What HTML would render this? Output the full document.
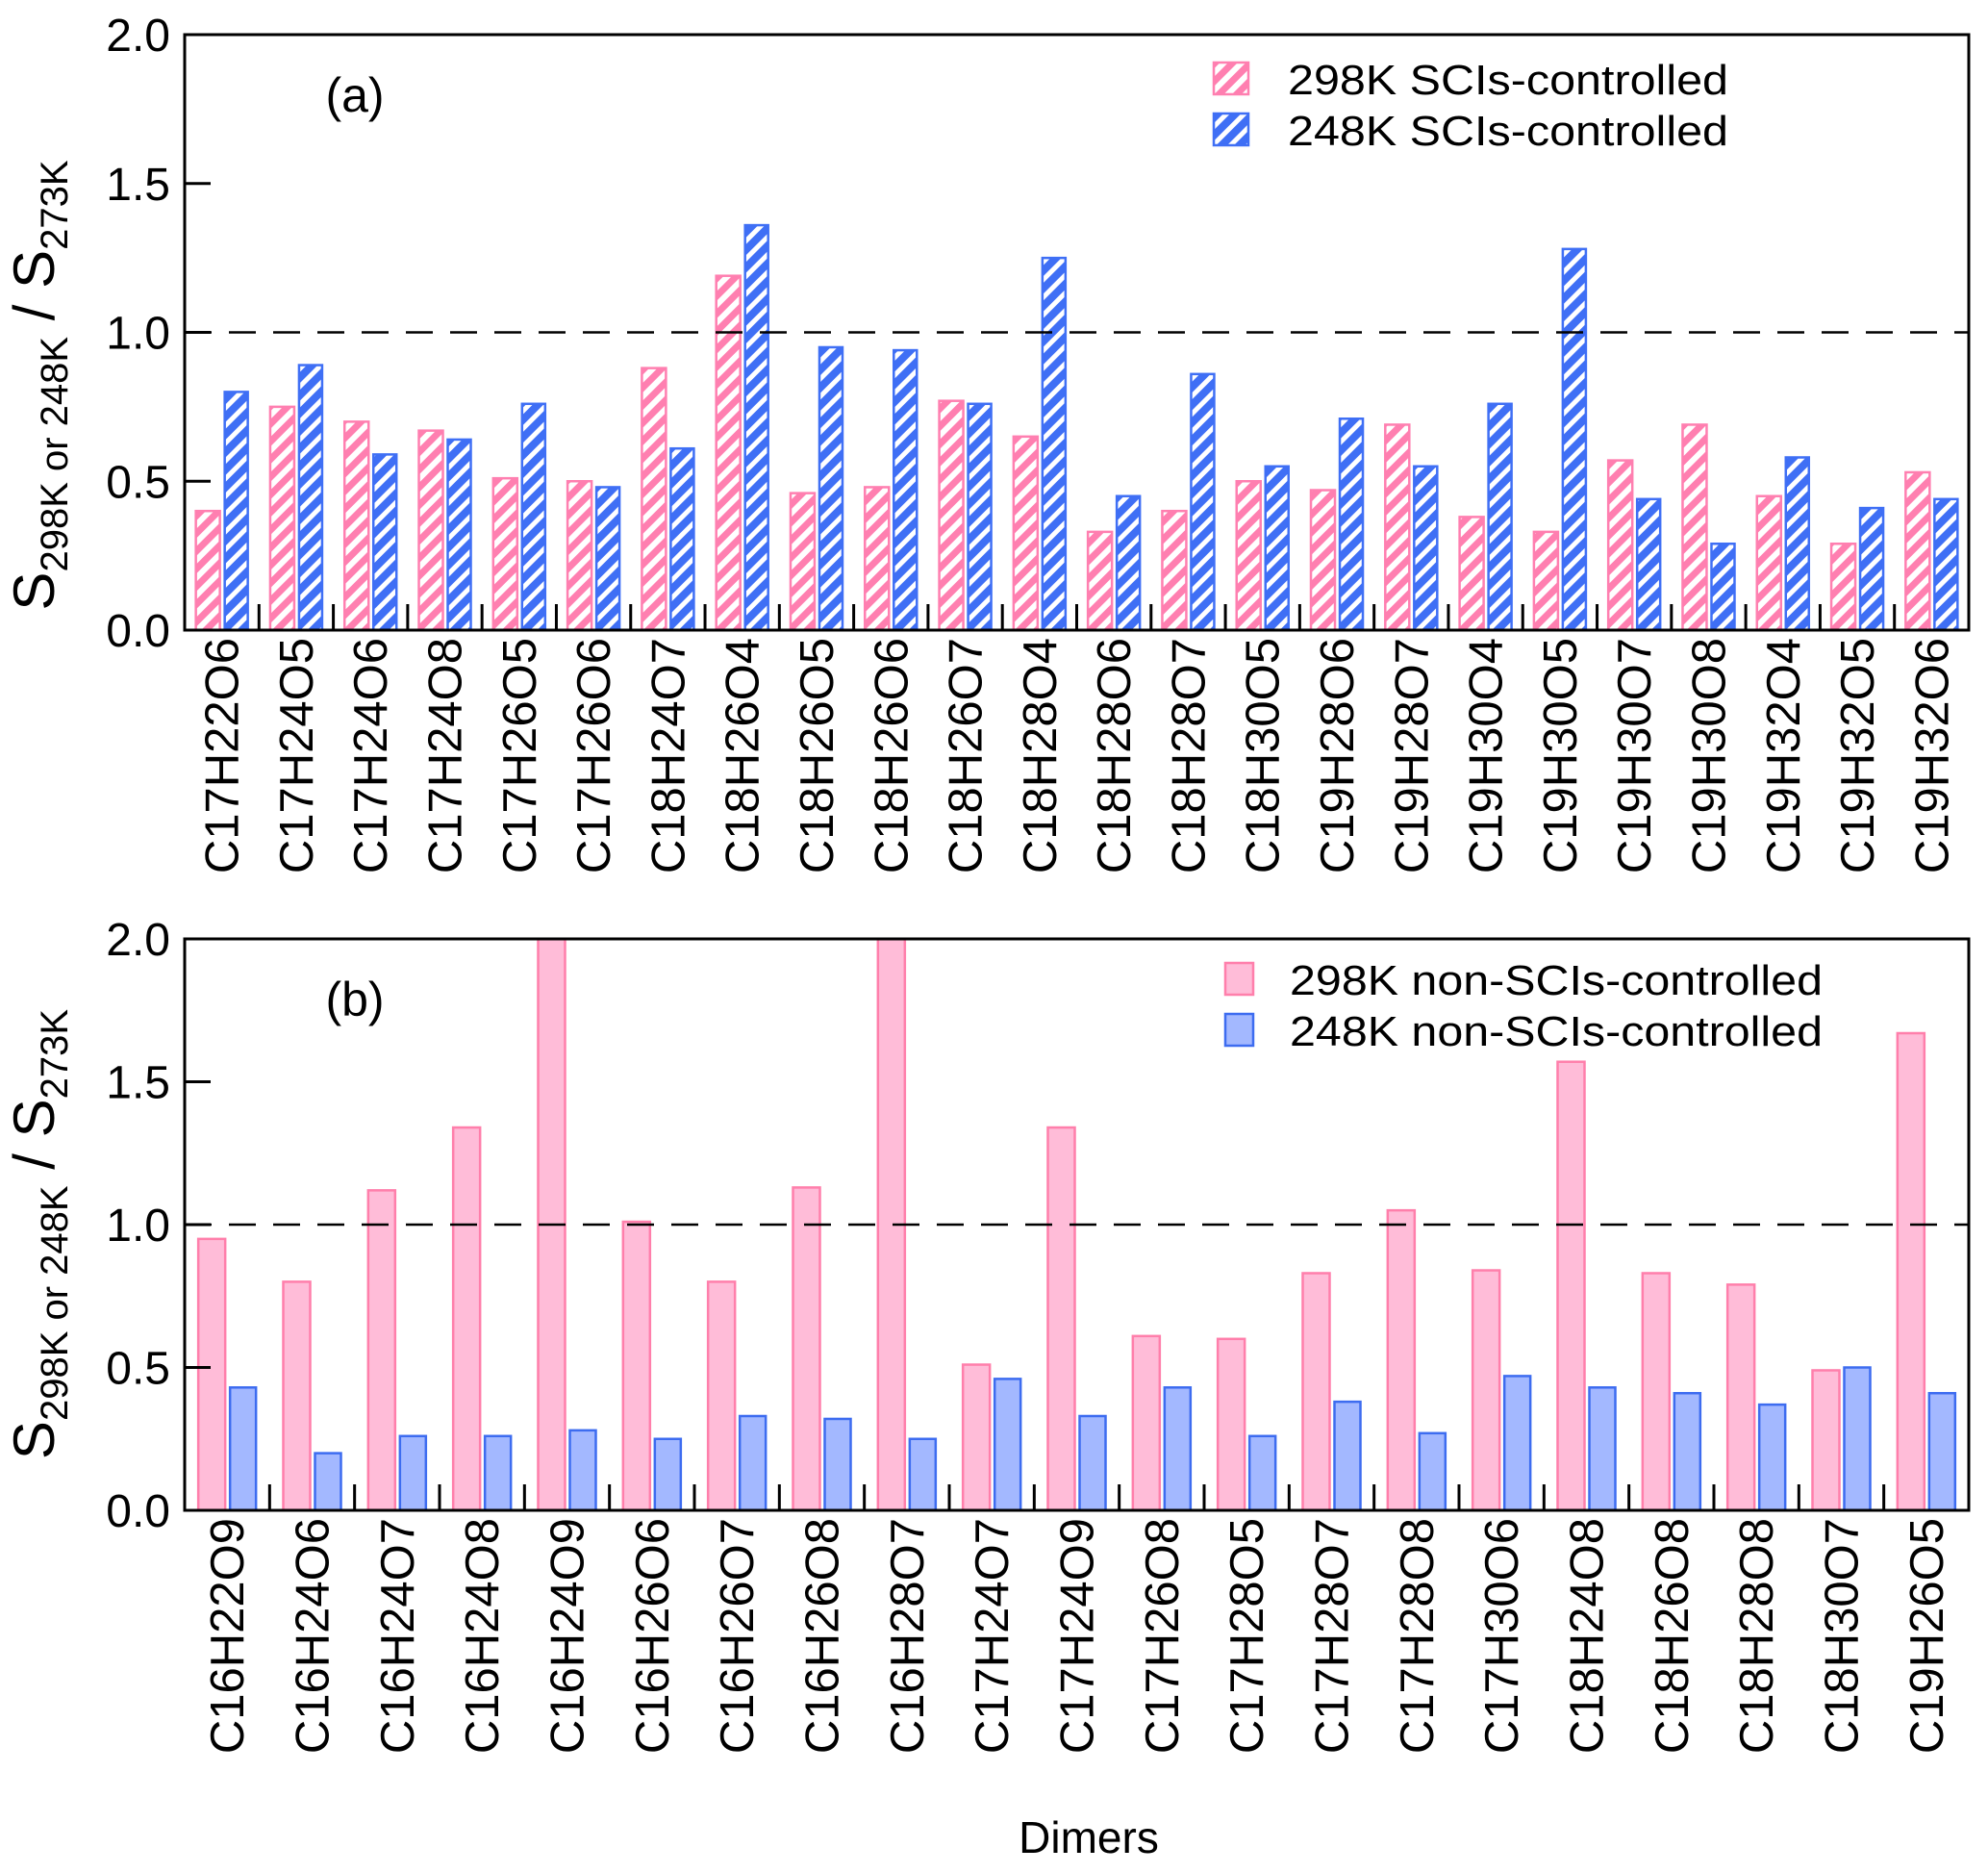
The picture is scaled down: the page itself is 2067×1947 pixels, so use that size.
<!DOCTYPE html>
<html><head><meta charset="utf-8">
<style>
html,body{margin:0;padding:0;background:#fff;}
svg{display:block;font-family:"Liberation Sans",Arial,sans-serif;}
</style></head>
<body>
<svg id="chart" width="2067" height="1947" viewBox="0 0 2067 1947" xmlns="http://www.w3.org/2000/svg">
<defs>
<pattern id="hatchPink" patternUnits="userSpaceOnUse" width="13" height="13" patternTransform="rotate(45)">
<rect width="13" height="13" fill="#fff"/><rect width="7" height="13" fill="#ff7fb0"/>
</pattern>
<pattern id="hatchBlue" patternUnits="userSpaceOnUse" width="13" height="13" patternTransform="rotate(45)">
<rect width="13" height="13" fill="#fff"/><rect width="8" height="13" fill="#3f6ff5"/>
</pattern>
</defs>
<g id="panelA"></g>
<g id="panelB"></g>
<text x="1132" y="1926" font-size="46" text-anchor="middle">Dimers</text>
</svg>
<script>
const catsA = ["C17H22O6","C17H24O5","C17H24O6","C17H24O8","C17H26O5","C17H26O6","C18H24O7","C18H26O4","C18H26O5","C18H26O6","C18H26O7","C18H28O4","C18H28O6","C18H28O7","C18H30O5","C19H28O6","C19H28O7","C19H30O4","C19H30O5","C19H30O7","C19H30O8","C19H32O4","C19H32O5","C19H32O6"];
const pinkA = [0.40,0.75,0.70,0.67,0.51,0.50,0.88,1.19,0.46,0.48,0.77,0.65,0.33,0.40,0.50,0.47,0.69,0.38,0.33,0.57,0.69,0.45,0.29,0.53];
const blueA = [0.80,0.89,0.59,0.64,0.76,0.48,0.61,1.36,0.95,0.94,0.76,1.25,0.45,0.86,0.55,0.71,0.55,0.76,1.28,0.44,0.29,0.58,0.41,0.44];
const catsB = ["C16H22O9","C16H24O6","C16H24O7","C16H24O8","C16H24O9","C16H26O6","C16H26O7","C16H26O8","C16H28O7","C17H24O7","C17H24O9","C17H26O8","C17H28O5","C17H28O7","C17H28O8","C17H30O6","C18H24O8","C18H26O8","C18H28O8","C18H30O7","C19H26O5"];
const pinkB = [0.95,0.80,1.12,1.34,2.0,1.01,0.80,1.13,2.0,0.51,1.34,0.61,0.60,0.83,1.05,0.84,1.57,0.83,0.79,0.49,1.67];
const blueB = [0.43,0.20,0.26,0.26,0.28,0.25,0.33,0.32,0.25,0.46,0.33,0.43,0.26,0.38,0.27,0.47,0.43,0.41,0.37,0.50,0.41];
const yTicks = ["0.0","0.5","1.0","1.5","2.0"];
const yTickVals = [0,0.5,1.0,1.5,2.0];

const NS = "http://www.w3.org/2000/svg";
function mk(parent, tag, attrs, text){
  const e = document.createElementNS(NS, tag);
  for (const k in attrs) e.setAttribute(k, attrs[k]);
  if (text !== undefined) e.textContent = text;
  parent.appendChild(e);
  return e;
}

function drawPanel(g, cfg){
  const L=192, R=2047, T=cfg.top, B=cfg.bottom;
  const y = v => B - (v/2.0)*(B-T);
  const n = cfg.cats.length, gw = (R-L)/n;
  const xc = i => L + gw*(i+0.5);
  for (let i=0;i<n;i++){
    const p = mk(g,'rect',{x:xc(i)-cfg.off1, y:y(cfg.s1[i]), width:cfg.w1, height:B-y(cfg.s1[i]), fill:cfg.f1, stroke:cfg.st1, 'stroke-width':2.5});
    
    
    const q = mk(g,'rect',{x:xc(i)+3, y:y(cfg.s2[i]), width:cfg.w2, height:B-y(cfg.s2[i]), fill:cfg.f2, stroke:cfg.st2, 'stroke-width':2.5});
    
    
    const t = mk(g,'text',{x:0,y:0,'font-size':49,'text-anchor':'end',transform:`translate(${xc(i)+17},${B+8}) rotate(-90)`}, cfg.cats[i]);
    
    
  }
  const d = mk(g,'line',{x1:L,x2:R,y1:y(1),y2:y(1),stroke:'#000','stroke-width':2.5,'stroke-dasharray':'28 18'});
  
  
  for (let i=1;i<n;i++){
    const tk = mk(g,'line',{x1:L+gw*i,x2:L+gw*i,y1:B,y2:B-27,stroke:'#000','stroke-width':3});
    
    
  }
  for (let k=0;k<yTicks.length;k++){
    const yy = y(yTickVals[k]);
    const tk = mk(g,'line',{x1:L,x2:L+27,y1:yy,y2:yy,stroke:'#000','stroke-width':3});
    
    
    const lb = mk(g,'text',{x:177,y:yy+17,'font-size':48,'text-anchor':'end'}, yTicks[k]);
    
    
  }
  const fr = mk(g,'rect',{x:L,y:T,width:R-L,height:B-T,fill:'none',stroke:'#000','stroke-width':3});
  
  
  const pl = mk(g,'text',{x:369,y:T+80,'font-size':50,'text-anchor':'middle'}, cfg.label);
  
  
  const cy = (T+B)/2 + cfg.titleOff;
  const yt = mk(g,'text',{x:0,y:0,'font-size':60,'text-anchor':'middle',transform:`translate(56,${cy}) rotate(-90)`});
  
  
  mk(yt,'tspan',{},'S');
  mk(yt,'tspan',{'font-size':40,dy:14},'298K or 248K');
  mk(yt,'tspan',{dy:-14},'  / S');
  mk(yt,'tspan',{'font-size':40,dy:14},'273K');
  for (let k=0;k<2;k++){
    const ly = cfg.legY[k];
    const sw = mk(g,'rect',{x:cfg.legX, y:ly-17, width:cfg.legSw, height:33, fill:k?cfg.f2:cfg.f1, stroke:k?cfg.st2:cfg.st1,'stroke-width':2.5});
    
    
    const lt = mk(g,'text',{x:cfg.legTX, y:ly+16,'font-size':44,textLength:cfg.legTW[k],lengthAdjust:'spacingAndGlyphs'}, cfg.legText[k]);
    
    
  }
}

drawPanel(document.getElementById('panelA'), {
  top:36, bottom:655, cats:catsA, s1:pinkA, s2:blueA,
  off1:27, w1:25, w2:24, titleOff:55,
  f1:'url(#hatchPink)', st1:'#ff7fb0', f2:'url(#hatchBlue)', st2:'#3f6ff5',
  label:'(a)', legX:1262, legSw:36, legY:[82,135], legTX:1339, legTW:[458,458],
  legText:['298K SCIs-controlled','248K SCIs-controlled']
});
drawPanel(document.getElementById('panelB'), {
  top:976, bottom:1570, cats:catsB, s1:pinkB, s2:blueB,
  off1:30, w1:28, w2:27, titleOff:10,
  f1:'#ffbcd8', st1:'#ff7fab', f2:'#a3b8ff', st2:'#3d6cf0',
  label:'(b)', legX:1274, legSw:29, legY:[1018,1071], legTX:1341, legTW:[554,554],
  legText:['298K non-SCIs-controlled','248K non-SCIs-controlled']
});
</script>
</body></html>
